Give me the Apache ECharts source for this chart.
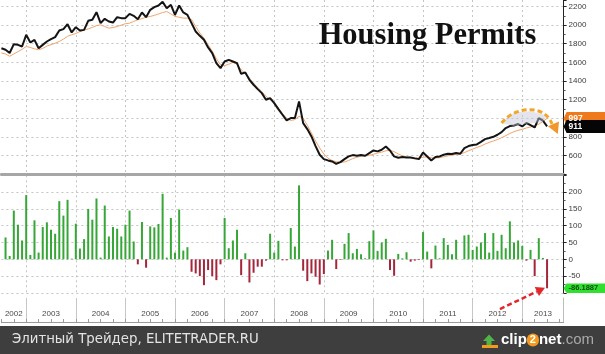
<!DOCTYPE html>
<html>
<head>
<meta charset="utf-8">
<script src="https://cdn.jsdelivr.net/npm/echarts@6/dist/echarts.min.js"></script>
<style>
html, body { margin: 0; padding: 0; background: #fff; }
#main { width: 605px; height: 354px; }
</style>
</head>
<body>
<div id="main"></div>
<script>
// months Jun 2002 .. Oct 2013 (last four are empty room up to the axis)
var months = [];
for (var y = 2002; y <= 2013; y++) {
    for (var m = 1; m <= 12; m++) {
        if (y == 2002 && m < 6) continue;
        if (y == 2013 && m > 10) continue;
        months.push(y + '-' + (m < 10 ? '0' + m : m));
    }
}
var years = ['2002', '2003', '2004', '2005', '2006', '2007', '2008', '2009', '2010', '2011', '2012', '2013'];

// building permits, thousands (black line), Jun 2002 .. Jun 2013
var permits = [
    1752, 1735, 1700, 1795, 1788, 1770, 1896, 1813, 1842, 1752,
    1788, 1824, 1849, 1871, 1942, 1957, 2010, 1921, 1978, 1942,
    1949, 2046, 2057, 2139, 2021, 2068, 2039, 2028, 2085, 2075,
    2075, 2121, 2100, 2064, 2136, 2085, 2164, 2193, 2211, 2250,
    2182, 2218, 2110, 2211, 2136, 2110, 2021, 1932, 1885, 1842,
    1760, 1699, 1591, 1538, 1609, 1627, 1609, 1591, 1477, 1491,
    1412, 1359, 1312, 1269, 1198, 1216, 1162, 1097, 1037, 976,
    1001, 1001, 1180, 947, 883, 804, 700, 607, 560, 546,
    535, 510, 528, 560, 589, 603, 596, 603, 596, 625,
    653, 643, 661, 696, 653, 589, 575, 582, 578, 578,
    568, 560, 632, 589, 546, 582, 589, 607, 618, 614,
    625, 618, 679, 700, 712, 718, 745, 775, 787, 800,
    822, 850, 894, 915, 922, 937, 911, 948, 925, 900,
    1001, 973, 911
];

// orange line
var expected = [
    1700, 1690, 1665, 1690, 1715, 1740, 1770, 1760, 1745, 1735,
    1750, 1775, 1790, 1805, 1824, 1850, 1880, 1896, 1910, 1931,
    1945, 1960, 1975, 1995, 2003, 1985, 1967, 1975, 1985, 2000,
    2015, 2021, 2040, 2057, 2070, 2085, 2093, 2105, 2120, 2135,
    2146, 2120, 2093, 2085, 2075, 2075, 2060, 1985, 1915, 1860,
    1790, 1720, 1640, 1575, 1565, 1580, 1600, 1580, 1520, 1480,
    1430, 1375, 1330, 1285, 1235, 1200, 1165, 1110, 1050, 1000,
    975, 985, 1020, 1000, 925, 840, 755, 680, 615, 570,
    545, 532, 525, 530, 545, 565, 580, 590, 595, 600,
    612, 625, 635, 650, 655, 640, 615, 595, 585, 578,
    574, 570, 580, 585, 575, 572, 575, 585, 595, 603,
    610, 615, 630, 650, 668, 685, 700, 722, 740, 755,
    770, 790, 812, 835, 855, 870, 880, 895, 905, 920,
    935, 965, 997
];

// lower panel bars
var diff = [
    null, 65, 10, 145, 103, 56, 191, 13, 116, 20,
    96, 110, 88, 76, 173, 130, 177, 2, 106, 32,
    60, 150, 118, 181, 5, 160, 68, 96, 91, 68,
    103, 145, 53, -15, 111, -25, 98, 95, 105, 195,
    5, 123, 20, 148, 26, 36, -37, -42, -50, -77,
    -32, -50, -62, -15, 123, 33, 56, 88, -47, 18,
    -69, -40, -22, -22, -4, 76, 20, 55, -3, -3,
    93, 38, 220, -34, -65, -42, -52, -75, -44, 26,
    58, -29, -2, 46, 78, 18, 31, 15, 3, 54,
    86, 25, 50, 61, -32, -49, 16, 3, 21, -7,
    -4, -2, 81, 23, -27, 41, 3, 63, 43, 15,
    58, 0, 71, 73, 28, 38, 50, 78, 20, 78,
    25, 73, 33, 113, 50, 56, 40, -4, 28, -50,
    63, 4, -86.1887
];

var lastPermit = permits[permits.length - 1];
var lastExpected = expected[expected.length - 1];
var lastDiff = diff[diff.length - 1];

function yearEnd(idx) { return months[idx].slice(5) == '12'; }
function quarterEnd(idx) { return ['03', '06', '09', '12'].indexOf(months[idx].slice(5)) >= 0; }

// year label goes in the middle of the visible part of each year band
var yearLabelIdx = {};
years.forEach(function (yr) {
    var a = months.indexOf((+yr - 1) + '-12');
    var b = months.indexOf(yr + '-12');
    if (a < 0) a = 0;
    if (b < 0) b = months.length - 1;
    yearLabelIdx[Math.round((a + b) / 2)] = yr;
});

var dotted = { color: '#c4c4c4', type: [2, 3], width: 1 };
var axisFont = { color: '#3a3a3a', fontSize: 8, fontFamily: 'Liberation Sans', margin: 5 };

var chart = echarts.init(document.getElementById('main'));
var option = {
    animation: false,
    backgroundColor: '#fff',
    grid: [
        { left: 1.4, right: 41.4, top: 0, height: 174, outerBoundsMode: 'none' },
        { left: 1.4, right: 41.4, top: 175.3, height: 117.6, outerBoundsMode: 'none' },
        { left: 1.4, right: 41.4, top: 298, height: 24, outerBoundsMode: 'none' }
    ],
    xAxis: [{
        type: 'category', gridIndex: 0, data: months, boundaryGap: false,
        axisLine: { show: true, lineStyle: { color: '#a6a6a6', width: 3 } },
        axisTick: { show: false }, axisLabel: { show: false },
        splitLine: { show: true, interval: yearEnd, lineStyle: dotted }
    }, {
        type: 'category', gridIndex: 1, data: months, boundaryGap: false,
        axisLine: { show: false }, axisTick: { show: false }, axisLabel: { show: false },
        splitLine: { show: true, interval: yearEnd, lineStyle: dotted }
    }, {
        type: 'category', gridIndex: 2, data: months, boundaryGap: false, position: 'top',
        axisLine: { show: true, lineStyle: { color: '#9a9a9a', width: 1 } },
        axisTick: { show: true, interval: quarterEnd, length: 3, lineStyle: { color: '#9a9a9a' } },
        axisLabel: {
            inside: true, margin: 12, fontSize: 8, color: '#4a4a4a', fontFamily: 'Liberation Sans',
            interval: function (idx) { return yearLabelIdx[idx] !== undefined; },
            formatter: function (v, idx) { return yearLabelIdx[idx] || ''; }
        },
        splitLine: { show: true, interval: yearEnd, lineStyle: { color: '#c6c6c6', width: 1 } }
    }],
    yAxis: [{
        type: 'value', gridIndex: 0, position: 'right', min: 400, max: 2270, interval: 200,
        axisLine: { show: true, lineStyle: { color: '#222' } },
        axisTick: { show: true, length: 3, lineStyle: { color: '#222' } },
        minorTick: { show: true, splitNumber: 2, length: 2, lineStyle: { color: '#555' } },
        axisLabel: Object.assign({
            showMinLabel: false, showMaxLabel: false,
            formatter: function (v) { return String(v); }
        }, axisFont),
        splitLine: { show: true, showMinLine: false, showMaxLine: false, lineStyle: dotted }
    }, {
        type: 'value', gridIndex: 1, position: 'right', min: -100, max: 250, interval: 50,
        axisLine: { show: true, lineStyle: { color: '#222' } },
        axisTick: { show: true, length: 3, lineStyle: { color: '#222' } },
        minorTick: { show: true, splitNumber: 2, length: 2, lineStyle: { color: '#555' } },
        axisLabel: Object.assign({
            formatter: function (v) { return (v > 200 || v < -50) ? '' : String(v); }
        }, axisFont),
        splitLine: { show: true, showMaxLine: false, lineStyle: dotted }
    }, {
        type: 'value', gridIndex: 2, position: 'right',
        axisLine: { show: true, lineStyle: { color: '#bdbdbd' } },
        axisTick: { show: false }, axisLabel: { show: false }, splitLine: { show: false }
    }],
    series: [{
        name: 'expected', type: 'line', xAxisIndex: 0, yAxisIndex: 0, data: expected,
        symbol: 'none', lineStyle: { color: '#f0a46c', width: 1 }, z: 2
    }, {
        name: 'permits', type: 'line', xAxisIndex: 0, yAxisIndex: 0, data: permits,
        symbol: 'none', lineStyle: { color: '#141414', width: 2 }, z: 3
    }, {
        name: 'diff', type: 'bar', xAxisIndex: 1, yAxisIndex: 1, data: diff, barWidth: 2,
        itemStyle: { color: function (p) { return p.value < 0 ? '#a3263b' : '#36a636'; } }
    }]
};
chart.setOption(option);

// pixel position for a (fractional) month index
function xy(g, i, v) {
    var f = Math.floor(i);
    var a = chart.convertToPixel({ gridIndex: g }, [f, v]);
    var b = chart.convertToPixel({ gridIndex: g }, [f + 1, v]);
    return [a[0] + (b[0] - a[0]) * (i - f), a[1]];
}

function arrowHead(tip, from, len, half, color) {
    var dx = tip[0] - from[0], dy = tip[1] - from[1];
    var d = Math.sqrt(dx * dx + dy * dy);
    dx /= d; dy /= d;
    var bx = tip[0] - dx * len, by = tip[1] - dy * len;
    return {
        type: 'polygon', z: 20,
        shape: { points: [tip, [bx - dy * half, by + dx * half], [bx + dy * half, by - dx * half]] },
        style: { fill: color }
    };
}

function valueTag(y, fill, text, color, h, size) {
    var ax = xy(0, months.length - 1, 1000)[0];
    return [{
        type: 'polygon', z: 30,
        shape: { points: [[ax, y], [ax + 3, y - h / 2], [605, y - h / 2], [605, y + h / 2], [ax + 3, y + h / 2]] },
        style: { fill: fill }
    }, {
        type: 'text', z: 31, x: ax + 5, y: y,
        style: { text: text, fill: color, font: 'bold ' + size + 'px "Liberation Sans"', verticalAlign: 'middle', align: 'left' }
    }];
}

var g = [];
g.push({
    type: 'text', x: 427.5, y: 36.6, z: 10,
    style: { text: 'Housing Permits', fill: '#111', font: 'bold 30.5px "Liberation Serif"', align: 'center', verticalAlign: 'middle' }
});

// orange dashed arc over the last months
var p0 = xy(0, 121, 948), c1 = xy(0, 124.2, 1131), c2 = xy(0, 131.5, 1152), p3 = xy(0, 133.2, 937), tipO = xy(0, 134.6, 830);
g.push({
    type: 'polygon', z: 5,
    shape: { points: [p0, xy(0, 124, 1060), xy(0, 128, 1075), xy(0, 132, 1030), xy(0, 131, 960), xy(0, 127, 940), xy(0, 124, 915)] },
    style: { fill: 'rgba(196,196,214,0.45)' }
});
g.push({
    type: 'bezierCurve', z: 20,
    shape: { x1: p0[0], y1: p0[1], cpx1: c1[0], cpy1: c1[1], cpx2: c2[0], cpy2: c2[1], x2: p3[0], y2: p3[1] },
    style: { stroke: '#f2a52a', lineWidth: 3, lineDash: [5, 3], fill: null }
});
g.push(arrowHead(tipO, c2, 11, 6, '#f0962a'));

// red dashed arrow under the last bar
var r0 = xy(1, 120.6, -148), r1 = xy(1, 131.5, -84.5);
var rEnd = [r1[0] - (r1[0] - r0[0]) * 0.18, r1[1] - (r1[1] - r0[1]) * 0.18];
g.push({
    type: 'line', z: 20,
    shape: { x1: r0[0], y1: r0[1], x2: rEnd[0], y2: rEnd[1] },
    style: { stroke: '#e3262b', lineWidth: 2.5, lineDash: [5, 3] }
});
g.push(arrowHead(r1, r0, 9, 5, '#e3262b'));

// value tags on the axes
var yExp = xy(0, 0, lastExpected)[1];
var yPer = xy(0, 0, lastPermit)[1];
var yDif = xy(1, 0, lastDiff)[1];
g = g.concat(valueTag(yExp, '#ee7a1c', String(lastExpected), '#fff', 13, 8.5));
g = g.concat(valueTag(yPer, '#050505', String(lastPermit), '#fff', 13, 8.5));
g = g.concat(valueTag(yDif, '#2fe02f', String(lastDiff), '#134a13', 9.5, 7.5));

// footer band
g.push({ type: 'rect', z: 40, shape: { x: 0, y: 326, width: 605, height: 28 }, style: { fill: '#3e3e3e' } });
g.push({
    type: 'text', z: 41, x: 12, y: 340,
    style: { text: 'Элитный Трейдер, ELITETRADER.RU', fill: '#e4e4e4', font: '13.3px "DejaVu Sans"', verticalAlign: 'middle' }
});
g.push({
    type: 'polygon', z: 41,
    shape: { points: [[483, 341], [489, 334.5], [495, 341], [491.5, 341], [491.5, 345], [486.5, 345], [486.5, 341]] },
    style: { fill: '#4fb548' }
});
g.push({ type: 'rect', z: 41, shape: { x: 482, y: 345, width: 16, height: 3 }, style: { fill: '#f29a1d' } });
g.push({
    type: 'text', z: 41, x: 501, y: 340,
    style: {
        text: '{a|clip}{b|2}{a|net}{c|.com}', verticalAlign: 'middle',
        rich: {
            a: { fill: '#fff', font: 'bold 15px "Liberation Sans"' },
            b: { fill: '#fff', font: 'bold 11px "Liberation Sans"', backgroundColor: '#f39a1e', borderRadius: 6, padding: [1, 3, 1, 3] },
            c: { fill: '#a9a9a9', font: '15px "Liberation Sans"' }
        }
    }
});

chart.setOption({ graphic: g });
</script>
</body>
</html>
